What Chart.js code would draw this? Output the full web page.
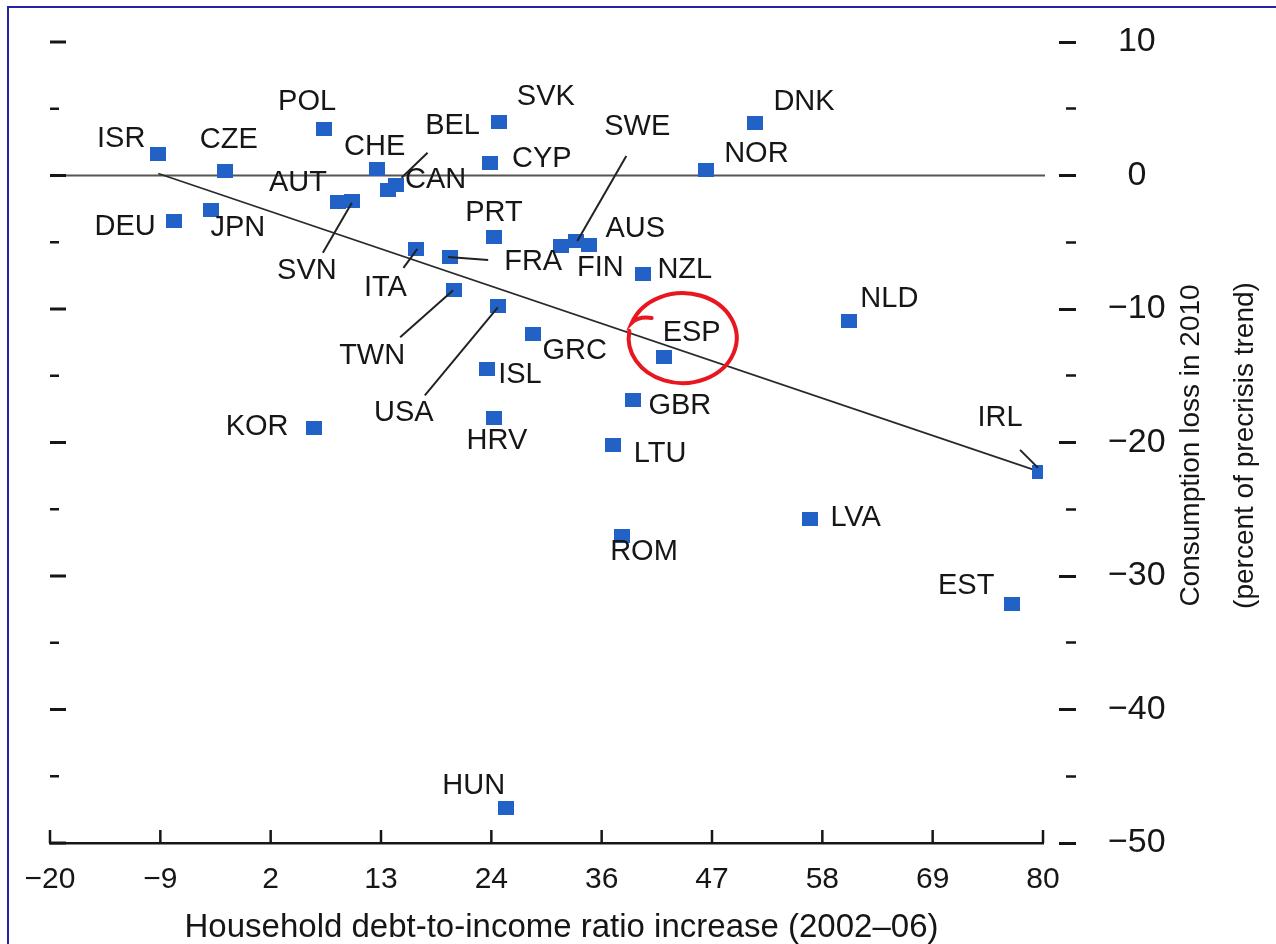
<!DOCTYPE html>
<html><head><meta charset="utf-8">
<script src="https://cdn.jsdelivr.net/npm/chart.js@4.4.1/dist/chart.umd.min.js"></script>
<style>
html,body{margin:0;padding:0;background:#fff;overflow:hidden;}
#wrap{position:relative;width:1276px;height:944px;}
#frame{position:absolute;left:7px;top:6px;width:1320px;height:1000px;border:2px solid #2424a0;box-sizing:border-box;pointer-events:none;}
canvas{display:block;}
</style></head><body>
<div id="wrap"><canvas id="c" width="1276" height="944"></canvas><div id="frame"></div></div>
<script>
// ---- data ----
const countries = ['ISR','CZE','POL','DEU','JPN','AUT','SVN','CHE','CAN','BEL','SVK','CYP','PRT','SWE','FIN','AUS','NZL','NOR','DNK','ITA','FRA','TWN','USA','GRC','ISL','HRV','KOR','ESP','GBR','LTU','ROM','LVA','HUN','NLD','IRL','EST'];
const debtIncrease = [-9.1,-2.4,7.6,-7.5,-3.8,9.0,10.4,12.9,14.0,14.8,25.2,24.3,24.7,33.0,31.5,34.3,39.7,46.1,51.0,16.9,20.3,20.7,25.1,28.6,24.0,24.7,6.6,41.8,38.7,36.7,37.6,56.5,25.9,60.5,79.7,76.9];
const consumptionLoss = [1.6,0.3,3.5,-3.4,-2.6,-2.0,-1.9,0.5,-1.1,-0.7,4.0,0.9,-4.6,-4.9,-5.3,-5.2,-7.4,0.4,3.9,-5.5,-6.1,-8.6,-9.8,-11.9,-14.5,-18.2,-18.9,-13.6,-16.8,-20.2,-27.0,-25.7,-47.4,-10.9,-22.2,-32.1];
const trendX = [-9.1, 79.7];
const trendY = [0.15, -22.2];
const zeroX = [-20, 80.2];
const zeroY = [0, 0];
const xMin = -20, xMax = 80, yMin = -50, yMax = 10, yStep = 5;
const xTickLabels = ['\u221220','\u22129','2','13','24','36','47','58','69','80'];
const xTitle = 'Household debt-to-income ratio increase (2002\u201306)';
const yTitle = ['Consumption loss in 2010', '(percent of precrisis trend)'];
const highlighted = 'ESP';

// ---- label placement (pixel offsets from each point) ----
const labelOffsets = [[-37,-15],[4,-31],[-17,-27],[-49,6],[27,18],[-40,-19],[-45,70],[-2,-22],[48,-10],[57,-59],[47,-25],[52,-4],[0,-24],[61,-114],[39,22],[46,-16],[42,-4],[50,-16],[49,-21],[-31,39],[83,5],[-82,66],[-94,107],[42,17],[33,6],[3,23],[-57,-1],[28,-24],[47,6],[47,9],[22,16],[46,-1],[-32,-22],[40,-22],[-40,-54],[-46,-18]];
const leaders = {SVN:[-29,52,0,2], BEL:[32,-32,6,-7], SWE:[50,-85,1,0], ITA:[-13,19,1,0], FRA:[38,3,-2,0], TWN:[-54,47,-1,0], USA:[-73,89,0,1], IRL:[-20,-22,-2,-4]};

const FONT = "'Liberation Sans', Arial, Helvetica, sans-serif";
const INK = '#161616';
Chart.defaults.font.family = FONT;
Chart.defaults.color = INK;

const sq = document.createElement('canvas');
sq.width = 16; sq.height = 14;
const sg = sq.getContext('2d'); sg.fillStyle = '#2262c6'; sg.fillRect(0, 0, 16, 14);

const fmt = v => String(v).replace('-', '\u2212');

const annot = {
  id: 'annot',
  afterDatasetsDraw(chart) {
    const {ctx, chartArea: a, scales: {x, y}} = chart;
    ctx.save();
    ctx.strokeStyle = INK;
    // upward x tick marks
    ctx.lineWidth = 2.5;
    x.ticks.forEach(t => {
      const p = x.getPixelForValue(t.value);
      ctx.beginPath(); ctx.moveTo(p, a.bottom); ctx.lineTo(p, a.bottom - 13); ctx.stroke();
    });
    // left dashes
    y.ticks.forEach(t => {
      const p = y.getPixelForValue(t.value);
      const major = t.value % 10 === 0;
      ctx.lineWidth = major ? 3 : 2.5;
      ctx.beginPath(); ctx.moveTo(a.left, p); ctx.lineTo(a.left + (major ? 16 : 9), p); ctx.stroke();
    });
    // leader lines & labels
    const meta = chart.getDatasetMeta(0);
    ctx.lineWidth = 2; ctx.strokeStyle = '#222';
    countries.forEach((c, i) => {
      const el = meta.data[i];
      const L = leaders[c];
      if (L) {
        ctx.beginPath(); ctx.moveTo(el.x + L[0], el.y + L[1]); ctx.lineTo(el.x + L[2], el.y + L[3]); ctx.stroke();
      }
    });
    ctx.fillStyle = INK;
    ctx.font = '29px ' + FONT;
    ctx.textAlign = 'center'; ctx.textBaseline = 'middle';
    countries.forEach((c, i) => {
      const el = meta.data[i];
      ctx.fillText(c, el.x + labelOffsets[i][0], el.y + labelOffsets[i][1]);
    });
    // red hand-drawn circle around highlighted country
    const hi = meta.data[countries.indexOf(highlighted)];
    const cx = hi.x + 19, cy = hi.y - 19, rx = 54, ry = 45;
    ctx.strokeStyle = '#e8161e'; ctx.lineWidth = 4; ctx.lineCap = 'round';
    const s0 = 200 * Math.PI / 180;
    ctx.beginPath();
    ctx.moveTo(cx - 31, cy - 20);
    ctx.quadraticCurveTo(cx - 44, cy - 22, cx + rx * Math.cos(s0), cy + ry * Math.sin(s0));
    ctx.ellipse(cx, cy, rx, ry, 0, s0, s0 + 2 * Math.PI * 0.97);
    ctx.stroke();
    // axis titles
    ctx.fillStyle = INK;
    ctx.font = '33px ' + FONT;
    ctx.fillText(xTitle, (a.left + a.right) / 2 + 15, a.bottom + 85);
    ctx.font = '28px ' + FONT;
    const ym = (a.top + a.bottom) / 2 + 3;
    [[yTitle[0], a.right + 148], [yTitle[1], a.right + 202]].forEach(([t, xx]) => {
      ctx.save(); ctx.translate(xx, ym); ctx.rotate(-Math.PI / 2);
      ctx.fillText(t, 0, 0); ctx.restore();
    });
    ctx.restore();
  }
};

new Chart(document.getElementById('c'), {
  type: 'scatter',
  data: {
    datasets: [
      {type: 'scatter', data: debtIncrease.map((v, i) => ({x: v, y: consumptionLoss[i]})), pointStyle: sq, pointRadius: 8, pointHoverRadius: 8, order: 1},
      {type: 'line', showLine: true, data: trendX.map((v, i) => ({x: v, y: trendY[i]})), borderColor: '#2a2a2a', borderWidth: 1.8, pointRadius: 0, order: 2, clip: false},
      {type: 'line', showLine: true, data: zeroX.map((v, i) => ({x: v, y: zeroY[i]})), borderColor: '#555', borderWidth: 1.8, pointRadius: 0, order: 3, clip: false}
    ]
  },
  options: {
    responsive: false, animation: false, devicePixelRatio: 1,
    layout: {padding: {left: 50, top: 42, right: 0, bottom: 0}},
    plugins: {legend: {display: false}, tooltip: {enabled: false}},
    scales: {
      x: {
        type: 'linear', position: 'bottom', min: xMin, max: xMax,
        afterBuildTicks: s => { s.ticks = xTickLabels.map((_, i) => ({value: xMin + i * (xMax - xMin) / (xTickLabels.length - 1)})); },
        afterFit: s => { s.height = 101; },
        grid: {display: false, drawTicks: false},
        border: {display: true, color: INK, width: 2.5},
        ticks: {autoSkip: false, maxRotation: 0, padding: 19, color: INK, font: {size: 30}, callback: (v, i) => xTickLabels[i]},
        title: {display: false}
      },
      y: {
        type: 'linear', position: 'right', min: yMin, max: yMax,
        afterFit: s => { s.width = 233; },
        border: {display: false},
        grid: {
          drawOnChartArea: false, drawTicks: true, tickLength: 65, tickColor: INK,
          tickWidth: c => (c.tick && c.tick.value % 10 === 0) ? 3 : 2.5,
          tickBorderDash: c => (c.tick && c.tick.value % 10 === 0) ? [0, 16, 17, 200] : [0, 23, 10, 200]
        },
        ticks: {stepSize: yStep, padding: 0, crossAlign: 'center', color: INK, font: {size: 34}, callback: v => v % 10 === 0 ? fmt(v) : ''}
      }
    }
  },
  plugins: [annot]
});
</script>
</body></html>
